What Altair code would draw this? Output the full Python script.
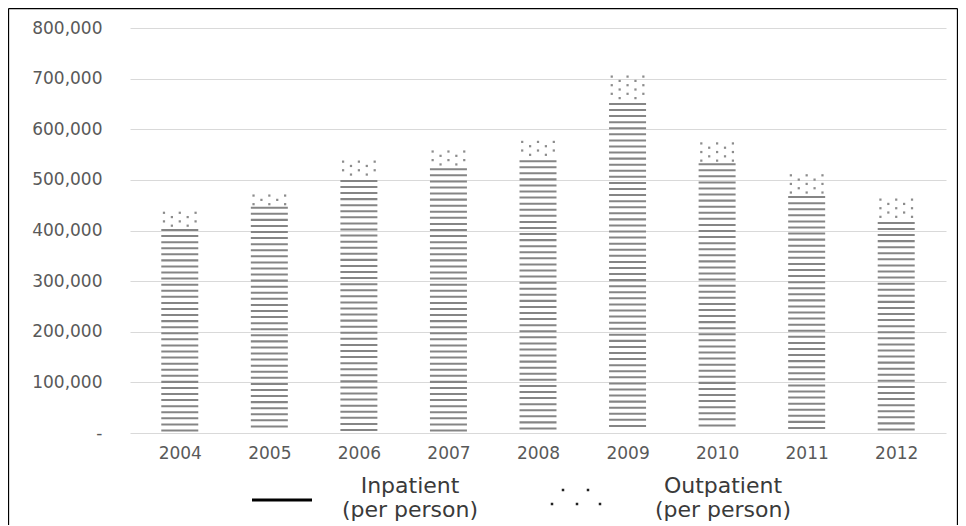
import altair as alt
import pandas as pd

# ---- data ----
years = [2004, 2005, 2006, 2007, 2008, 2009, 2010, 2011, 2012]
inpatient = [403000, 447000, 500000, 523000, 539000, 652000, 533000, 468000, 417000]
outpatient = [37000, 27000, 41000, 38000, 41000, 57000, 44000, 46000, 49000]
y_ticks = [0, 100000, 200000, 300000, 400000, 500000, 600000, 700000, 800000]
legend_names = ["Inpatient", "Outpatient"]
legend_sub = "(per person)"

# ---- layout / style ----
W, H = 816, 405
PX_PER_YEAR = W / len(years)
FONT = "DejaVu Sans"
BAR_PX = 37
BOTTOM = 92

# pattern fills (horizontal stripes for inpatient, dots for outpatient)
stripe_rows = []
for yr, v in zip(years, inpatient):
    top = v
    while top - 4000 > 1500:
        stripe_rows.append({"year": yr, "y0": top - 4000, "y1": top})
        top -= 12000
stripes = pd.DataFrame(stripe_rows)

dot_rows = []
for yr, v, o in zip(years, inpatient, outpatient):
    tot = v + o
    r = 0
    yy = tot - 5000
    while yy > v + 4000:
        offs = [-16, 0, 16] if r % 2 == 0 else [-8, 8]
        for dx in offs:
            dot_rows.append({"year": yr + dx / PX_PER_YEAR, "y0": yy})
        r += 1
        yy -= 8500
dots = pd.DataFrame(dot_rows)

xscale = alt.Scale(domain=[years[0] - 0.5, years[-1] + 0.5], nice=False, zero=False)
yscale = alt.Scale(domain=[0, 800000], nice=False)

x_axis = alt.Axis(values=years, format="d", title=None, grid=False, domain=False,
                  ticks=False, labelFont=FONT, labelFontSize=17, labelColor="#595959",
                  labelPadding=12)
y_axis = alt.Axis(values=y_ticks, title=None, domain=False, ticks=False, grid=True,
                  gridColor="#d9d9d9", gridWidth=1, labelFont=FONT, labelFontSize=17,
                  labelColor="#595959", labelPadding=28,
                  labelExpr="datum.value == 0 ? '-' : format(datum.value, ',')")

X = alt.X("year:Q", scale=xscale, axis=x_axis)
Y = alt.Y("y0:Q", scale=yscale, axis=y_axis)

stripe_layer = alt.Chart(stripes).mark_bar(size=BAR_PX, color="#858585").encode(
    x=X, y=Y, y2="y1:Q",
)

dot_layer = alt.Chart(dots).mark_square(size=5, color="#8c8c8c", opacity=1).encode(
    x=X, y=Y,
)

one = pd.DataFrame({"k": [0]})

# legend
leg_line = alt.Chart(one).mark_rule(color="#000000", strokeWidth=3).encode(
    x=alt.value(122), x2=alt.value(182), y=alt.value(472))

dot_offsets = [(-13, -7), (12, -7), (-24, 7), (1, 7), (24, 7)]
path = " ".join(f"M{dx-1.25},{dy-1.25}h2.5v2.5h-2.5z" for dx, dy in dot_offsets)
leg_dots = alt.Chart(one).mark_point(shape=path, filled=True, size=4, color="#222222",
                                     opacity=1).encode(x=alt.value(446), y=alt.value(469))

leg_text_style = dict(font=FONT, fontSize=22, color="#3a3a3a", align="center", baseline="alphabetic")
leg_texts = []
for name, cx in zip(legend_names, [280, 593]):
    leg_texts.append(alt.Chart(one).mark_text(**leg_text_style).encode(
        x=alt.value(cx), y=alt.value(465), text=alt.value(name)))
    leg_texts.append(alt.Chart(one).mark_text(**leg_text_style).encode(
        x=alt.value(cx), y=alt.value(489), text=alt.value(legend_sub)))

# outer frame
frame_l = alt.Chart(one).mark_rule(color="#000000", strokeWidth=1.3).encode(
    x=alt.value(-121.5), y=alt.value(-19.5), y2=alt.value(H + BOTTOM))
frame_t = alt.Chart(one).mark_rule(color="#000000", strokeWidth=1.3).encode(
    x=alt.value(-121.5), x2=alt.value(827.5), y=alt.value(-19.5))
frame_r = alt.Chart(one).mark_rule(color="#000000", strokeWidth=1.3).encode(
    x=alt.value(827.5), y=alt.value(-19.5), y2=alt.value(H + BOTTOM))

chart = alt.layer(stripe_layer, dot_layer, leg_line, leg_dots, *leg_texts,
                  frame_l, frame_t, frame_r).properties(
    width=W, height=H,
    autosize=alt.AutoSizeParams(type="none"),
    padding={"left": 122, "top": 20, "right": 12, "bottom": BOTTOM},
    background="#ffffff",
).configure_view(stroke=None)

chart.save("out.html", embed_options={"renderer": "svg", "actions": False})
